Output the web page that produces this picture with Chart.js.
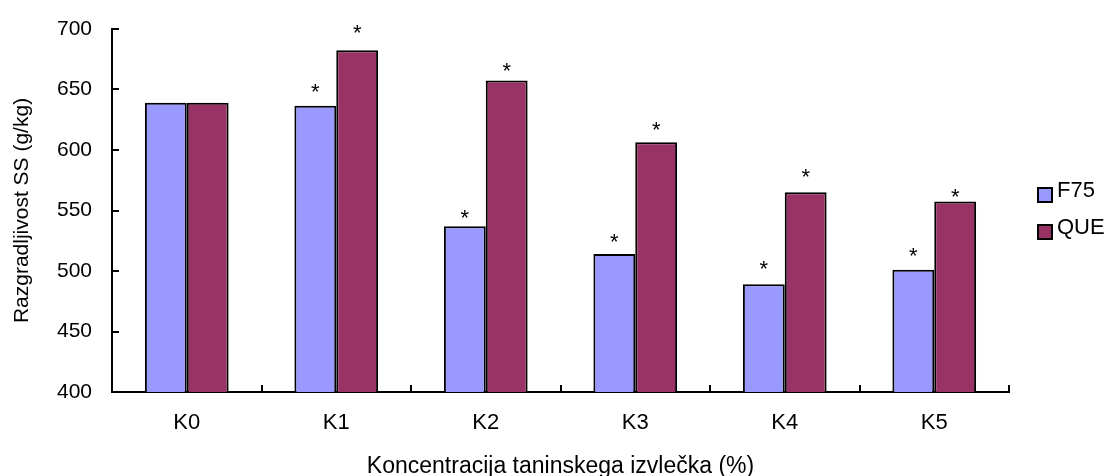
<!DOCTYPE html>
<html>
<head>
<meta charset="utf-8">
<script src="https://cdn.jsdelivr.net/npm/chart.js@4/dist/chart.umd.min.js"></script>
<style>
  html, body { margin: 0; padding: 0; background: #fff; }
  #wrap { width: 1109px; height: 476px; }
</style>
</head>
<body>
<div id="wrap"><canvas id="chart"></canvas></div>
<script>
(function () {
    "use strict";

    // Data
    const categories = ["K0", "K1", "K2", "K3", "K4", "K5"];
    const f75Values = [639, 636.5, 537, 514, 489, 501];
    const queValues = [639, 682.5, 657.5, 606.5, 565, 557.5];
    // where the significance asterisks sit (value on the y axis, null = none)
    const f75Stars = [null, 648, 544, 524, 502, 512];
    const queStars = [null, 697, 665.5, 616.5, 578, 561];
    const yTicks = [400, 450, 500, 550, 600, 650, 700];

    const FONT = "'Liberation Sans', Arial, sans-serif";

    // asterisks above the bars
    const starPlugin = {
        id: "stars",
        afterDatasetsDraw(chart) {
            const ctx = chart.ctx;
            const y = chart.scales.y;
            const stars = [f75Stars, queStars];
            ctx.save();
            ctx.fillStyle = "#000";
            ctx.font = "22px " + FONT;
            ctx.textAlign = "center";
            ctx.textBaseline = "alphabetic";
            const desc = ctx.measureText("*").actualBoundingBoxDescent;
            chart.data.datasets.forEach((ds, di) => {
                chart.getDatasetMeta(di).data.forEach((bar, i) => {
                    const v = stars[di][i];
                    if (v === null) return;
                    ctx.fillText("*", bar.x, y.getPixelForValue(v) - desc);
                });
            });
            ctx.restore();
        },
    };

    // inward tick marks on both axes
    const tickPlugin = {
        id: "inTicks",
        afterDraw(chart) {
            const ctx = chart.ctx;
            const x = chart.scales.x;
            const y = chart.scales.y;
            ctx.save();
            ctx.strokeStyle = "#000";
            ctx.lineWidth = 2;
            ctx.beginPath();
            yTicks.forEach((v) => {
                const py = Math.round(y.getPixelForValue(v));
                ctx.moveTo(y.right, py);
                ctx.lineTo(y.right + 7, py);
            });
            for (let i = 1; i <= categories.length; i++) {
                const px = Math.round(x.getPixelForValue(i - 0.5));
                ctx.moveTo(px, x.top);
                ctx.lineTo(px, x.top - 7);
            }
            ctx.stroke();
            ctx.restore();
        },
    };

    // legend on the right
    const legendPlugin = {
        id: "sideLegend",
        afterDraw(chart) {
            const ctx = chart.ctx;
            const left = chart.chartArea.right + 29;
            const top = 188;
            ctx.save();
            ctx.font = "22px " + FONT;
            ctx.textBaseline = "middle";
            ctx.textAlign = "left";
            chart.data.datasets.forEach((ds, i) => {
                const by = top + i * 37;
                ctx.fillStyle = ds.backgroundColor;
                ctx.fillRect(left, by, 14, 14);
                ctx.strokeStyle = "#000";
                ctx.lineWidth = 2;
                ctx.strokeRect(left, by, 14, 14);
                ctx.fillStyle = "#000";
                ctx.fillText(ds.label, left + 19, by + 3);
            });
            ctx.restore();
        },
    };

    const ctx = document.getElementById("chart").getContext("2d");

    new Chart(ctx, {
        type: "bar",
        data: {
            labels: categories,
            datasets: [
                {
                    label: "F75",
                    data: f75Values,
                    backgroundColor: "#9999FF",
                    borderColor: "#000",
                    borderWidth: 2,
                    borderSkipped: "start",
                    categoryPercentage: 0.56,
                    barPercentage: 1,
                },
                {
                    label: "QUE",
                    data: queValues,
                    backgroundColor: "#993366",
                    borderColor: "#000",
                    borderWidth: 2,
                    borderSkipped: "start",
                    categoryPercentage: 0.56,
                    barPercentage: 1,
                },
            ],
        },
        options: {
            responsive: true,
            maintainAspectRatio: false,
            animation: false,
            layout: {
                padding: { top: 29, right: 100, bottom: 0, left: 0 },
            },
            plugins: {
                legend: { display: false },
                tooltip: { enabled: false },
            },
            scales: {
                x: {
                    afterFit(scale) {
                        scale.height = 84;
                    },
                    // grid hidden; tickLength only used as label offset
                    grid: { display: false, drawTicks: true, tickLength: 18 },
                    border: { display: true, color: "#000", width: 2 },
                    ticks: {
                        color: "#000",
                        padding: 0,
                        font: { family: FONT, size: 22 },
                    },
                    title: {
                        display: true,
                        text: "Koncentracija taninskega izvlečka (%)",
                        color: "#000",
                        font: { family: FONT, size: 23, lineHeight: 0.85 },
                        padding: 0,
                    },
                },
                y: {
                    min: 400,
                    max: 700,
                    afterFit(scale) {
                        scale.width = 112;
                    },
                    afterBuildTicks(scale) {
                        scale.ticks = yTicks.map((v) => ({ value: v }));
                    },
                    grid: { display: false, drawTicks: true, tickLength: 20 },
                    border: { display: true, color: "#000", width: 2 },
                    ticks: {
                        color: "#000",
                        padding: 0,
                        font: { family: FONT, size: 21 },
                    },
                    title: {
                        display: true,
                        text: "Razgradljivost SS (g/kg)",
                        color: "#000",
                        font: { family: FONT, size: 21, lineHeight: 1 },
                        padding: { top: 11.5, bottom: 0 },
                    },
                },
            },
        },
        plugins: [starPlugin, tickPlugin, legendPlugin],
    });
})();
</script>
</body>
</html>
